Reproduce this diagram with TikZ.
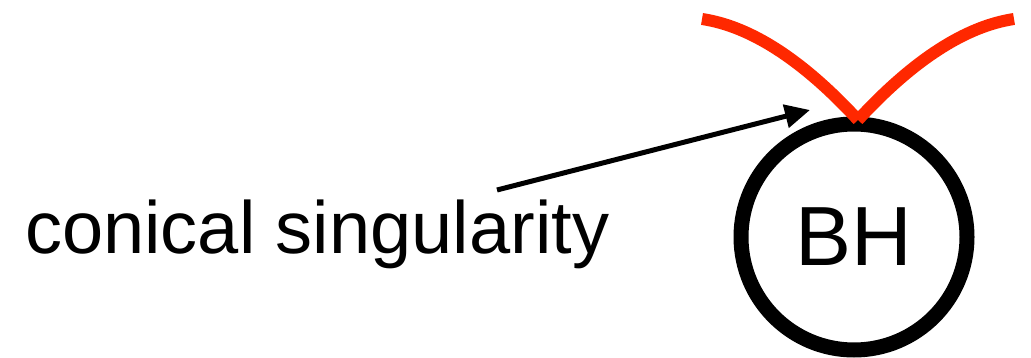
\documentclass[tikz,border=0pt]{standalone}
\usepackage{fontspec}
\setmainfont{Liberation Sans}
\usetikzlibrary{arrows.meta}
\definecolor{conered}{RGB}{255,40,0}
\tikzset{
  horizon/.style={circle,draw=black,line width=15pt,minimum size=226pt,inner sep=0pt,
    font=\fontsize{84}{90}\selectfont},
  conebranch/.style={conered,line width=12pt},
  pointer/.style={line width=5pt,-{Triangle[length=25pt,width=23pt]}}
}
\begin{document}
\begin{tikzpicture}[x=1pt,y=-1pt]
\useasboundingbox (0,0) rectangle (1031,358);
\node[horizon] (bh) at (854,237) {BH};
\node[anchor=base west,inner sep=0pt,font=\fontsize{74}{80}\selectfont] (lbl) at (25,254) {conical singularity};

\coordinate (L)    at (702,19);
\coordinate (R)    at (1014,19);
\coordinate (cusp) at (858,120);
\coordinate (tail) at (497,190);
\coordinate (tip)  at (810,110);

\draw[conebranch] (L) .. controls (750.7,26.3) and (802.7,60) .. (cusp);
\draw[conebranch] (R) .. controls (965.3,26.3) and (913.3,60) .. (cusp);
\draw[pointer] (tail) -- (tip);
\end{tikzpicture}
\end{document}
